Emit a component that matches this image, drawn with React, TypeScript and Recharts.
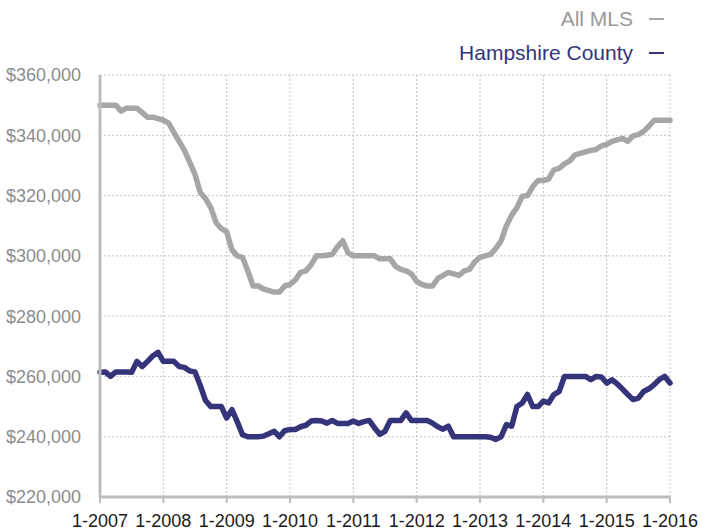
import React from "react";
import { LineChart, Line, XAxis, YAxis, CartesianGrid } from "recharts";

const yearLabels = ["1-2007", "1-2008", "1-2009", "1-2010", "1-2011", "1-2012", "1-2013", "1-2014", "1-2015", "1-2016"];
const yTicks = [220000, 240000, 260000, 280000, 300000, 320000, 340000, 360000];

// monthly values (thousands), Jan 2007 .. Jan 2016
const allMls = [
  350, 350, 350, 350, 348, 349, 349, 349, 347.5, 346, 346, 345.5,
  345, 344, 341, 338, 335, 331, 327, 321, 319, 316, 311, 309,
  308, 302, 300, 299.5, 295, 290, 290, 289, 288.5, 288, 288, 290,
  290.5, 292, 294.5, 295, 297, 300, 300, 300.2, 300.5, 303, 305, 301,
  300, 300, 300, 300, 300, 299, 299, 299, 296.5, 295.5, 295, 294,
  291.5, 290.5, 290, 290, 292.5, 293.5, 294.5, 294, 293.5, 295, 295.5, 298,
  299.5, 300, 300.5, 302.5, 305, 310, 313.5, 316, 319.8, 320, 323, 325,
  325, 325.5, 328.5, 329, 330.5, 331.5, 333.5, 334, 334.5, 335, 335.3, 336.5,
  337, 338, 338.5, 339, 338, 339.8, 340.2, 341.3, 343, 345, 345, 345,
  345,
];

const hampshire = [
  261.4, 261.5, 260, 261.5, 261.5, 261.5, 261.4, 265, 263.3, 265, 266.8, 268,
  265, 265, 265, 263.3, 263, 261.8, 261.5, 257, 252, 250, 250, 250,
  246.2, 249, 245, 240.7, 240, 240, 240, 240.2, 241, 241.8, 240, 242,
  242.4, 242.4, 243.3, 243.8, 245.2, 245.4, 245.2, 244.5, 245.4, 244.4, 244.4, 244.4,
  245.2, 244.4, 245, 245.4, 243, 240.8, 241.8, 245.4, 245.4, 245.4, 247.9, 245.4,
  245.4, 245.4, 245.4, 244.5, 243.3, 242.5, 243.5, 240, 240, 240, 240, 240,
  240, 240, 239.8, 239.1, 240, 244, 243.5, 250, 251.2, 254, 250, 250,
  251.8, 251.2, 254, 255, 260, 260, 260, 260, 260, 258.9, 260, 259.8,
  257.8, 258.9, 257.5, 255.8, 254, 252.3, 252.8, 255, 255.9, 257.3, 259, 260,
  257.8,
];

const data = allMls.map((v, i) => ({
  m: i,
  all: v * 1000,
  ham: hampshire[i] * 1000,
}));

const xTicks = yearLabels.map((_, i) => i * 12);

const GRAY = "#a6a6a6";
const NAVY = "#35347a";
const FONT = "'Liberation Sans', Arial, Helvetica, sans-serif";

export default function App() {
  return (
    <div style={{ position: "absolute", left: 0, top: 0, width: 702, height: 531, background: "#fff", fontFamily: FONT }}>
      <div style={{ position: "absolute", right: 38, top: 2, textAlign: "right", fontSize: 21, lineHeight: "34px" }}>
        <div style={{ color: "#9a9a9a", display: "flex", alignItems: "center", justifyContent: "flex-end" }}>
          <span>All MLS</span>
          <span style={{ display: "inline-block", width: 15, height: 2, background: "#a8a8a8", marginLeft: 16 }} />
        </div>
        <div style={{ color: NAVY, display: "flex", alignItems: "center", justifyContent: "flex-end" }}>
          <span>Hampshire County</span>
          <span style={{ display: "inline-block", width: 15, height: 2, background: NAVY, marginLeft: 16 }} />
        </div>
      </div>
      <LineChart width={702} height={531} data={data} margin={{ top: 75, right: 32, bottom: 0, left: 0 }}>
        <CartesianGrid stroke="#c4c4c4" strokeDasharray="2 2" strokeWidth={1} />
        <XAxis
          dataKey="m"
          type="number"
          domain={[0, 108]}
          ticks={xTicks}
          tickFormatter={(v: number) => yearLabels[Math.round(v / 12)]}
          interval={0}
          height={34}
          tickSize={6}
          tickMargin={11}
          axisLine={{ stroke: "#bdbdbd", strokeWidth: 3 }}
          tickLine={{ stroke: "#bdbdbd", strokeWidth: 2 }}
          tick={{ fill: "#1a1a1a", fontSize: 18, fontFamily: FONT }}
        />
        <YAxis
          type="number"
          domain={[220000, 360000]}
          ticks={yTicks}
          interval={0}
          width={100}
          tickSize={6}
          tickMargin={13}
          tickLine={false}
          axisLine={{ stroke: "#bdbdbd", strokeWidth: 3 }}
          tickFormatter={(v: number) => "$" + v.toLocaleString("en-US")}
          tick={{ fill: "#8c8c8c", fontSize: 18, fontFamily: FONT }}
        />
        <Line type="linear" dataKey="all" stroke={GRAY} strokeWidth={5.5} dot={false} isAnimationActive={false} strokeLinejoin="round" strokeLinecap="round" />
        <Line type="linear" dataKey="ham" stroke={NAVY} strokeWidth={5.5} dot={false} isAnimationActive={false} strokeLinejoin="round" strokeLinecap="round" />
      </LineChart>
    </div>
  );
}
